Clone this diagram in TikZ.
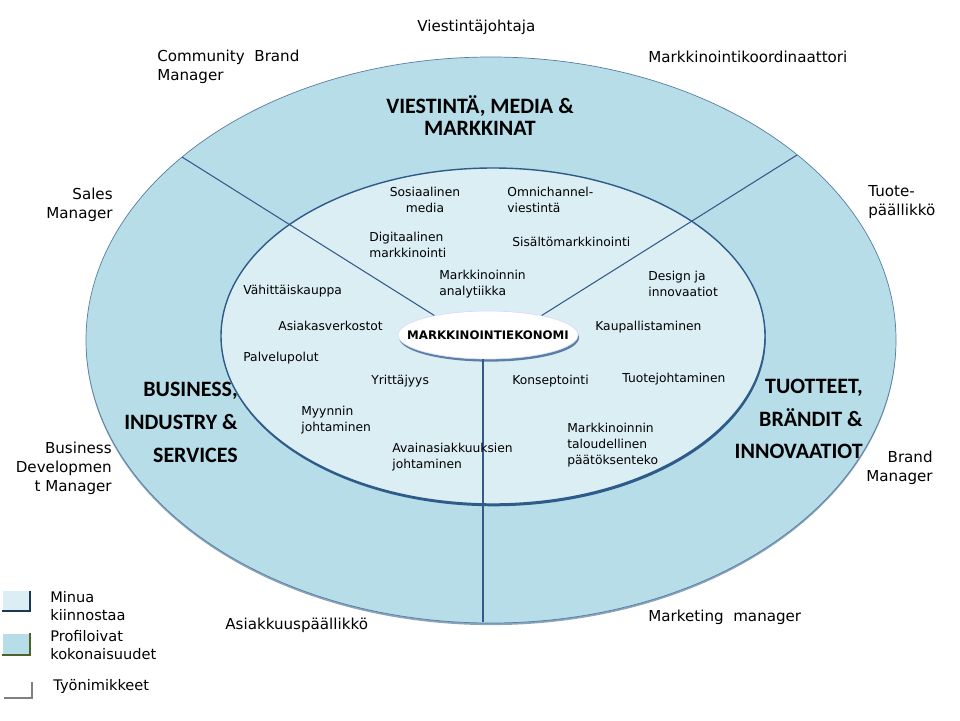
\documentclass[tikz,border=0pt]{standalone}
\usepackage{fontspec}
\setmainfont{DejaVu Sans}
\newfontfamily\headfont{Carlito}
\usepackage{tikz}
\usetikzlibrary{shapes.geometric, shadows, positioning}

\definecolor{ringblue}{HTML}{B7DDE8}
\definecolor{coreblue}{HTML}{DAEEF3}
\definecolor{edgeblue}{HTML}{2E5C8A}
\definecolor{lineblue}{HTML}{34598A}
\definecolor{keygreen}{HTML}{4F6228}

\tikzset{
  areatext/.style={font=\fontsize{7}{9.1}\selectfont, inner sep=0, align=left, anchor=west},
  roletext/.style={font=\fontsize{8.6}{10.8}\selectfont, inner sep=0, align=left, anchor=west},
  headtext/.style={font=\headfont\bfseries\fontsize{12.5}{18.7}\selectfont, inner sep=0, align=right, anchor=east},
  divline/.style={lineblue, line width=0.6pt},
  keybox/.style={minimum width=0.54cm, minimum height=0.4cm, inner sep=0},
}

\begin{document}
\begin{tikzpicture}[x=0.02cm, y=-0.02cm]
  \useasboundingbox (0,0) rectangle (960,720);
  %% Outer ring
  \filldraw[fill=ringblue, draw=edgeblue!80, line width=0.4pt,
    drop shadow={fill=edgeblue!70, shadow xshift=0pt, shadow yshift=-1.2pt, opacity=.8}]
    (491,340) ellipse [x radius=405, y radius=283];
  %% Inner ring
  \filldraw[fill=coreblue, draw=edgeblue, line width=0.8pt,
    drop shadow={fill=edgeblue, shadow xshift=0.4pt, shadow yshift=-1.3pt, opacity=1}]
    (493,336) ellipse [x radius=272, y radius=168];
  %% Core
  \node[ellipse, fill=white, draw=blue!15, minimum width=3.6cm, minimum height=0.96cm, inner sep=0,
        drop shadow={fill=edgeblue!85, shadow xshift=0.6pt, shadow yshift=-1.5pt, opacity=.9},
        label={[name=coretext, font=\bfseries\fontsize{6.7}{8}\selectfont, inner sep=0]center:MARKKINOINTIEKONOMI}]
        (core) at (488,335) {};
  %% Dividers
  \coordinate (ul) at (182,157);
  \coordinate (ur) at (797,155);
  \coordinate (bot) at (483,622);
  \draw[divline] (core.160) -- (ul);
  \draw[divline] (core.20) -- (ur);
  \draw[divline] (core.south -| bot) -- (bot);
  %% Headings
  \node[headtext, align=center, anchor=center, font=\headfont\bfseries\fontsize{12.5}{13}\selectfont]
        (headA) at (480,115.5) {VIESTINTÄ, MEDIA \&\\MARKKINAT};
  \node[headtext] (headB) at (238,422.5) {BUSINESS,\\INDUSTRY \&\\SERVICES};
  \node[headtext] (headC) at (863,419) {TUOTTEET,\\BRÄNDIT \&\\INNOVAATIOT};
  %% Inner topics
  \node[areatext, align=center, anchor=center] (area0) at (425,199.5) {Sosiaalinen\\media};
  \foreach \txt/\x/\y [count=\n] in {
      {Omnichannel-\\viestintä}/507/199.5, {Digitaalinen\\markkinointi}/369/245,
      {Sisältömarkkinointi}/512/242, {Markkinoinnin\\analytiikka}/439/284,
      {Vähittäiskauppa}/243/291, {Design ja\\innovaatiot}/648/284,
      {Asiakasverkostot}/278/326, {Kaupallistaminen}/595/327,
      {Palvelupolut}/243/358, {Yrittäjyys}/371/381, {Konseptointi}/512/381,
      {Tuotejohtaminen}/622/379, {Myynnin\\johtaminen}/301/420,
      {Avainasiakkuuksien\\johtaminen}/392/457,
      {Markkinoinnin\\taloudellinen\\päätöksenteko}/567/445}{
    \node[areatext] (area\n) at (\x,\y) {\txt};
  }
  %% Job titles
  \foreach \txt/\x/\y [count=\n] in {
      {Viestintäjohtaja}/417/27, {Community~~Brand\\Manager}/157/66.5,
      {Markkinointikoordinaattori}/648/57, {Tuote-\\päällikkö}/868/202.5,
      {Asiakkuuspäällikkö}/225/625, {Marketing~~manager}/648/617}{
    \node[roletext] (role\n) at (\x,\y) {\txt};
  }
  \foreach \txt/\x/\y [count=\n] in {
      {Sales\\Manager}/113/204.5, {Business\\Developmen\\t Manager}/112/468,
      {Brand\\Manager}/933/467.5}{
    \node[roletext, align=right, anchor=east] (roleR\n) at (\x,\y) {\txt};
  }
  %% Legend
  \node[keybox, fill=coreblue] (key1) at (16,601) {};
  \draw[edgeblue!60!black, line width=1.1pt] (key1.north east) |- (key1.south west);
  \node[keybox, fill=ringblue, minimum height=0.42cm] (key2) at (16,644) {};
  \draw[keygreen, line width=1.1pt] (key2.north east) |- (key2.south west);
  \node[keybox, minimum height=0.32cm] (key3) at (18,690) {};
  \draw[gray, line width=1.1pt] (key3.north east) |- (key3.south west);
  \node[roletext, font=\fontsize{8.3}{10.4}\selectfont] (keytext1) at (50,606) {Minua\\kiinnostaa};
  \node[roletext, font=\fontsize{8.3}{10.4}\selectfont] (keytext2) at (50,645) {Profiloivat\\kokonaisuudet};
  \node[roletext, font=\fontsize{8.3}{10.4}\selectfont] (keytext3) at (53,686) {Työnimikkeet};
\end{tikzpicture}
\end{document}
